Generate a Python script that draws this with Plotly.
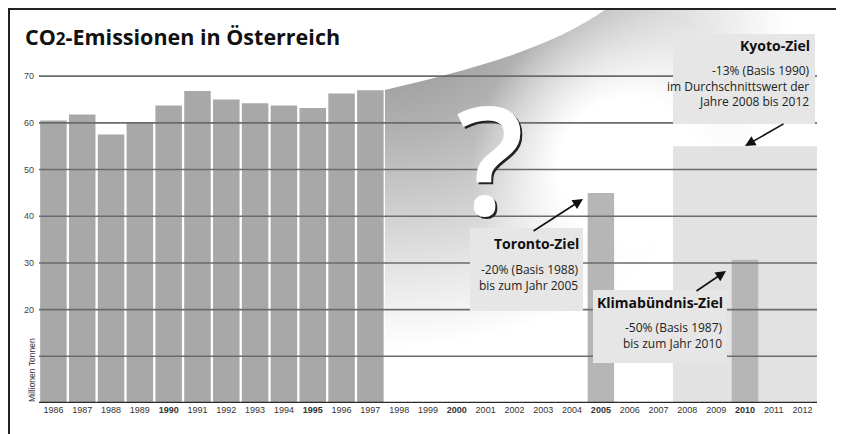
import base64
import plotly.graph_objects as go

# data (Millionen Tonnen)
hist_years = list(range(1986, 1998))
hist_values = [60.5, 61.8, 57.5, 60.0, 63.7, 66.8, 65.0, 64.2, 63.7, 63.2, 66.3, 67.0]

target_years = [2005, 2010]
target_values = [45.0, 30.7]

kyoto_years = [2008, 2009, 2010, 2011, 2012]
kyoto_value = 55.0

all_years = list(range(1986, 2013))
bold_years = [1990, 1995, 2000, 2005, 2010]
grid_values = [10, 20, 30, 40, 50, 60, 70]
label_values = [20, 30, 40, 50, 60, 70]

title = "CO<span style='font-size:17px'>2</span>-Emissionen in Österreich"

# the page body has an 8px margin, so the figure sits at (8, 8)
OFF = 8
W, H = 844 - OFF, 434 - OFF
ML, MT = 31, 0
PW, PH = 778, 395
MR, MB = W - ML - PW, H - MT - PH
Y_TOP = 84.6


def fx(p):
    # page pixel -> paper x
    return (p - OFF - ML) / PW


def fy(p):
    # page pixel -> paper y
    return (MT + PH - (p - OFF)) / PH


TXT = "Open Sans"
AX = "Liberation Sans"

# gradient "future" area behind the empty years
svg = """<svg xmlns='http://www.w3.org/2000/svg' width='433' height='395' viewBox='0 0 433 395' preserveAspectRatio='none'>
<defs>
<radialGradient id='g1' gradientUnits='userSpaceOnUse' cx='0' cy='0' r='400' gradientTransform='scale(1.2,1)'>
<stop offset='0' stop-color='#8c8c8c'/><stop offset='0.3' stop-color='#b0b0b0'/>
<stop offset='0.6' stop-color='#dddddd'/><stop offset='0.85' stop-color='#ffffff'/>
</radialGradient>
<radialGradient id='g2' gradientUnits='userSpaceOnUse' cx='246' cy='162' r='160'>
<stop offset='0' stop-color='#ffffff' stop-opacity='1'/><stop offset='0.45' stop-color='#ffffff' stop-opacity='1'/>
<stop offset='1' stop-color='#ffffff' stop-opacity='0'/>
</radialGradient>
</defs>
<path d='M0,82 C90,61 170,39 223,0 L433,0 L433,395 L0,395 Z' fill='url(#g1)'/>
<path d='M0,82 C90,61 170,39 223,0 L433,0 L433,395 L0,395 Z' fill='url(#g2)'/>
</svg>"""
svg_uri = "data:image/svg+xml;base64," + base64.b64encode(svg.encode()).decode()

kyoto_center = sum(kyoto_years) / len(kyoto_years)

fig = go.Figure()
fig.add_trace(go.Bar(x=[kyoto_center], y=[kyoto_value], width=[len(kyoto_years)],
                     marker=dict(color="#e2e2e2", line=dict(width=0))))
fig.add_trace(go.Bar(x=hist_years, y=hist_values, width=0.92,
                     marker=dict(color="#a8a8a8", line=dict(width=0))))
fig.add_trace(go.Bar(x=target_years, y=target_values, width=0.92,
                     marker=dict(color="#b6b6b6", line=dict(width=0))))

ticktext = [f"<b>{y}</b>" if y in bold_years else str(y) for y in all_years]

shapes = []
for v in grid_values:
    shapes.append(dict(type="line", xref="paper", yref="y", x0=0, x1=1, y0=v, y1=v,
                       line=dict(color="#6b6b6b", width=1.6), layer="above"))
shapes.append(dict(type="line", xref="paper", yref="y", x0=0, x1=1, y0=0, y1=0,
                   line=dict(color="#2a2a2a", width=2.5), layer="above"))
# text boxes
for x0, x1, y0, y1 in [(470, 583, 228, 311), (593, 727, 290, 363), (673, 815, 34, 124)]:
    shapes.append(dict(type="rect", xref="paper", yref="paper",
                       x0=fx(x0), x1=fx(x1), y0=fy(y1), y1=fy(y0),
                       fillcolor="#e6e6e6", line=dict(width=0), layer="above"))
# frame
shapes.append(dict(type="line", xref="paper", yref="paper", x0=fx(9), x1=fx(844), y0=fy(9), y1=fy(9),
                   line=dict(color="#222", width=2)))
shapes.append(dict(type="line", xref="paper", yref="paper", x0=fx(9), x1=fx(9), y0=fy(8), y1=fy(434),
                   line=dict(color="#222", width=2)))

ann = []
ann.append(dict(text=title, x=fx(23), y=fy(36), xref="paper", yref="paper", xanchor="left", yanchor="middle",
                showarrow=False, font=dict(family=TXT, size=21.5, color="#111", weight=700)))
ann.append(dict(text="Millionen Tonnen", x=fx(32), y=fy(370), xref="paper", yref="paper", textangle=-90,
                xanchor="center", yanchor="middle",
                showarrow=False, font=dict(family=AX, size=8.5, color="#333")))
# question mark with shadow
ann.append(dict(text="?", x=fx(492), y=fy(159), xref="paper", yref="paper", showarrow=False,
                xanchor="center", yanchor="middle",
                font=dict(family=TXT, size=150, color="#222", weight=600)))
ann.append(dict(text="?", x=fx(490), y=fy(157), xref="paper", yref="paper", showarrow=False,
                xanchor="center", yanchor="middle",
                font=dict(family=TXT, size=150, color="#ffffff", weight=600)))

labels = [
    (581, 243, "Toronto-Ziel", 277, "-20% (Basis 1988)<br>bis zum Jahr 2005"),
    (725, 302, "Klimabündnis-Ziel", 335, "-50% (Basis 1987)<br>bis zum Jahr 2010"),
    (812, 45, "Kyoto-Ziel", 86, "-13% (Basis 1990)<br>im Durchschnittswert der<br>Jahre 2008 bis 2012"),
]
for x, yh, head, yb, body in labels:
    ann.append(dict(text=head, x=fx(x), y=fy(yh), xref="paper", yref="paper", xanchor="right",
                    yanchor="middle", showarrow=False,
                    font=dict(family=TXT, size=14, color="#111", weight=700)))
    ann.append(dict(text=body, x=fx(x), y=fy(yb), xref="paper", yref="paper", xanchor="right",
                    yanchor="middle", align="right", showarrow=False,
                    font=dict(family=TXT, size=12, color="#222")))

# arrows: head position, tail position (page pixels)
for hx, hy, tx, ty in [(745, 146, 785, 123), (583, 199, 532, 232), (726, 271, 695, 292)]:
    ann.append(dict(text="", x=fx(hx), y=fy(hy), xref="paper", yref="paper",
                    ax=tx - hx, ay=ty - hy, showarrow=True, arrowhead=2, arrowsize=1.3,
                    arrowwidth=1.6, arrowcolor="#111"))

fig.update_layout(
    width=W, height=H,
    margin=dict(l=ML, r=MR, t=MT, b=MB),
    barmode="overlay",
    showlegend=False,
    plot_bgcolor="white",
    paper_bgcolor="white",
    hovermode=False,
    shapes=shapes,
    annotations=ann,
    images=[dict(source=svg_uri, xref="x", yref="y", x=1997.5, y=Y_TOP, sizex=15, sizey=Y_TOP,
                 xanchor="left", yanchor="top", sizing="stretch", layer="below")],
    xaxis=dict(range=[1985.5, 2012.5], tickvals=all_years, ticktext=ticktext, showgrid=False,
               zeroline=False, showline=False, ticks="", tickfont=dict(family=AX, size=9, color="#333")),
    yaxis=dict(range=[0, Y_TOP], tickvals=label_values, showgrid=False, zeroline=False,
               showline=False, ticks="", ticklabelstandoff=4,
               tickfont=dict(family=AX, size=9, color="#444")),
)

# figure fills the window past the body margin; hide the scrollbars that causes
fig.write_html("out.html", config={"displayModeBar": False},
               post_script="document.documentElement.style.overflow='hidden';"
                           "document.body.style.overflow='hidden';")
